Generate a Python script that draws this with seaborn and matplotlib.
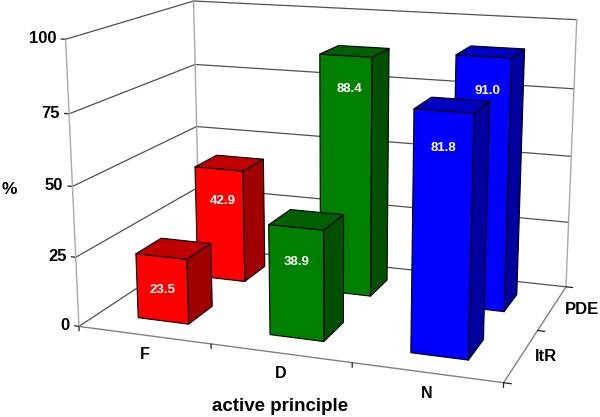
import numpy as np
import matplotlib
matplotlib.use("Agg")
import matplotlib.pyplot as plt
import seaborn as sns
from mpl_toolkits.mplot3d import proj3d
from mpl_toolkits.mplot3d.art3d import Poly3DCollection

categories = ["F", "D", "N"]
series = ["ltR", "PDE"]
ltr_values = [23.5, 38.9, 81.8]
pde_values = [42.9, 88.4, 91.0]
z_ticks = [0, 25, 50, 75, 100]

front_colors = ["#FF0000", "#008000", "#0000FF"]
top_colors = ["#C00000", "#006000", "#0000C0"]
side_colors = ["#A00000", "#005000", "#0000A0"]

sns.set_theme(style="white")
plt.rcParams["font.family"] = ["Liberation Sans", "DejaVu Sans"]

W, H = 600, 417
fig = plt.figure(figsize=(W / 100, H / 100), dpi=100)
ax = fig.add_axes([0, -(W - H) / 2 / H, 1, W / H], projection="3d", computed_zorder=False)
ax.set_axis_off()
ax.apply_aspect()

# Camera calibration: where the chart box's landmarks fall in the picture.
box_xyz = np.array([
    (0, 0, 0), (1, 0, 0), (2, 0, 0), (3, 0, 0), (3, 1, 0), (3, 2, 0), (0, 2, 0),
    (0, 0, 100), (0, 2, 100), (3, 2, 100),
    (0, 0, 25), (0, 0, 50), (0, 0, 75),
    (0, 2, 50), (0, 2, 75),
    (3, 2, 25), (3, 2, 50), (3, 2, 75),
], float)
box_px = np.array([
    (79, 326), (210.7, 343.3), (351.7, 363.3), (504, 383), (538, 330), (566, 287), (200, 248),
    (66, 39.5), (193.3, 1), (577.3, 20),
    (76, 257), (72, 187), (69, 113.7),
    (196.7, 126), (195, 64),
    (568.3, 221.7), (570.7, 156), (574, 89.3),
], float)

disp = np.column_stack([box_px[:, 0], H - box_px[:, 1]])
uv = ax.transData.inverted().transform(disp) * 10
A, b = [], []
for (X, Y, Z), (u, v) in zip(box_xyz, uv):
    Z = Z / 100
    A.append([X, Y, Z, 1, 0, 0, 0, 0, -u * X, -u * Y, -u * Z])
    b.append(u)
    A.append([0, 0, 0, 0, X, Y, Z, 1, -v * X, -v * Y, -v * Z])
    b.append(v)
h = np.linalg.lstsq(np.array(A), np.array(b), rcond=None)[0]
M = np.array([
    [h[0] / 10, h[1] / 10, h[2] / 1000, h[3] / 10],
    [h[4] / 10, h[5] / 10, h[6] / 1000, h[7] / 10],
    [0, 0, 0, -1],
    [h[8], h[9], h[10] / 100, 1],
])
ax.get_proj = lambda: M

ax.set_xlim(0, 3)
ax.set_ylim(0, 2)
ax.set_zlim(0, 100)


def label(x, y, z, s, **kw):
    """Place a flat text at the projected position of a point of the chart box."""
    u, v, _ = proj3d.proj_transform(x, y, z, M)
    return ax.text2D(u, v, s, transform=ax.transData, fontweight="bold", **kw)


GRID = "#505050"
LIGHT = "#A8A8A8"
n_x, n_y = len(categories), len(series)

# walls
for v in z_ticks:
    ax.plot([0, 0, n_x], [0, n_y, n_y], [v, v, v], color=GRID, lw=0.9, zorder=1)
    ax.plot([0, -0.035], [0, 0], [v, v], color="#222222", lw=0.9, zorder=1)
    label(-0.07, 0, v, str(v), ha="right", va="center", fontsize=12, color="black", zorder=30)
for x0, y0 in [(0, 0), (0, n_y), (n_x, n_y)]:
    ax.plot([x0, x0], [y0, y0], [0, 100], color=LIGHT, lw=1.0, zorder=1)
# floor
ax.plot([0, n_x, n_x], [0, 0, n_y], [0, 0, 0], color="#808080", lw=1.0, zorder=1)
for i in range(n_x + 1):
    ax.plot([i, i], [0, 0], [0, -1.6], color="#222222", lw=0.9, zorder=1)
for j in range(n_y + 1):
    ax.plot([n_x, n_x + 0.05], [j, j], [0, 0], color="#222222", lw=0.9, zorder=1)

BAR_W, BAR_D = 0.39, 0.4
values_by_series = [ltr_values, pde_values]
order = 2
for j in range(n_y - 1, -1, -1):
    for i in range(n_x):
        val = values_by_series[j][i]
        x0, x1 = i + 0.5 - BAR_W / 2, i + 0.5 + BAR_W / 2
        y0, y1 = j + 0.5 - BAR_D / 2, j + 0.5 + BAR_D / 2
        faces = [
            [(x0, y0, val), (x1, y0, val), (x1, y1, val), (x0, y1, val)],
            [(x1, y0, 0), (x1, y1, 0), (x1, y1, val), (x1, y0, val)],
            [(x0, y0, 0), (x1, y0, 0), (x1, y0, val), (x0, y0, val)],
        ]
        poly = Poly3DCollection(faces, facecolors=[top_colors[i], side_colors[i], front_colors[i]],
                                edgecolors="black", linewidths=0.8, zorder=order, zsort="average")
        ax.add_collection3d(poly)
        label(i + 0.5 + 0.03 * j, y0, val - 12, f"{val:.1f}", ha="center", va="center", color="white",
              fontsize=9.5, zorder=order + 0.5)
        order += 1

# axis labels
for i, c in enumerate(categories):
    label(i + 0.5, 0, -7, c, ha="center", va="center", fontsize=11.5, color="black", zorder=30)
for j, s in enumerate(series):
    label(n_x + 0.16 + 0.05 * j, j + 0.5, 0.7, s, ha="center", va="center", fontsize=12,
          color="black", zorder=30)
ax.text2D(280 / W, 0.5 + (H / 2 - 406.5) / W, "active principle", transform=ax.transAxes, ha="center", va="center",
          fontsize=13.5, fontweight="bold", color="black", zorder=30)
ax.text2D(9 / W, 0.5 + (H / 2 - 189.5) / W, "%", transform=ax.transAxes, ha="center", va="center",
          fontsize=12.5, fontweight="bold", color="black", zorder=30)

fig.savefig("out.png", dpi=100, facecolor="white")
